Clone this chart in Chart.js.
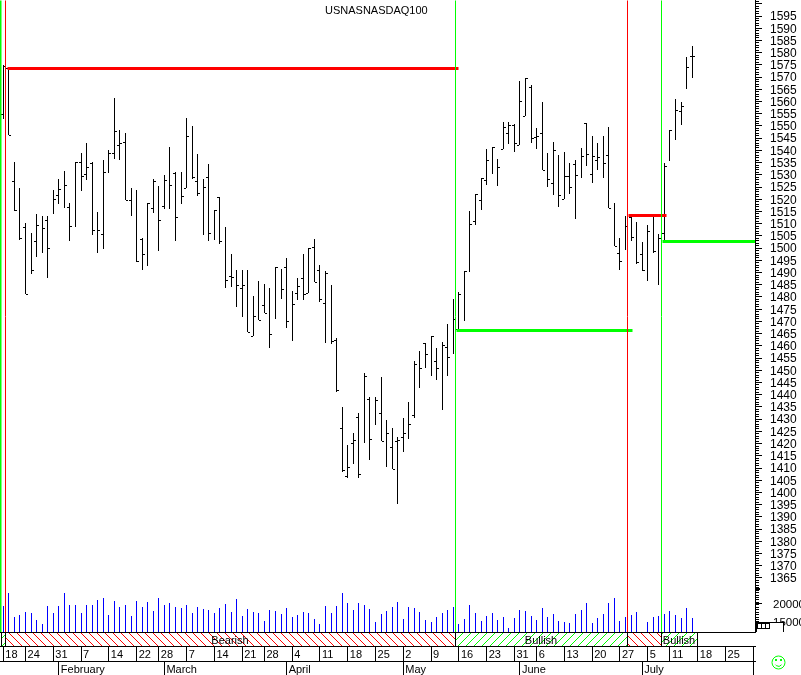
<!DOCTYPE html>
<html lang="en">

<head>
    <meta charset="UTF-8">
    <title>USNASNASDAQ100</title>
    <style>
        html, body { margin: 0; background: #fff; }
        canvas { display: block; }
    </style>
</head>

<body>
    <canvas id="myChart" width="801" height="675"></canvas>
    <script src="https://cdn.jsdelivr.net/npm/chart.js"></script>
    <script>
        const chartTitle = 'USNASNASDAQ100';

        // one entry per trading day, Jan 18 to Jul 15, null where no tick is visible
        const highs = [
            1574.8, 1573.6, 1535.1, 1524.5, 1510.2, 1505.8, 1513.8, 1513.0, 1513.0, 1523.7,
            1528.2, 1531.4, 1518.3, 1535.1, 1538.8, 1542.9, 1535.1, 1514.7, 1535.9, 1540.0,
            1561.3, 1548.2, 1547.0, 1524.5, 1523.7, 1504.0, 1518.3, 1528.2, 1525.3, 1529.8,
            1541.3, 1531.0, 1531.0, 1553.1, 1549.9, 1538.4, 1528.2, 1534.3, 1515.5, 1520.8,
            1508.5, 1497.5, 1490.9, 1490.9, 1490.9, 1480.3, 1486.4, 1485.2, 1483.6, 1492.2,
            1491.3, 1495.8, 1482.3, 1487.6, 1497.5, 1500.0, 1503.6, 1493.0, 1490.5, 1484.8,
            1463.1, 1434.9, 1419.3, 1424.2, 1432.4, 1448.8, 1439.0, 1439.0, 1447.1, 1429.5,
            1426.3, 1422.6, 1430.3, 1436.9, 1453.7, 1457.8, 1461.1, 1463.9, 1459.0, 1461.5,
            1468.8, 1479.1, 1482.0, 1490.5, 1515.1, 1522.0, 1528.6, 1540.5, 1541.3, 1536.4,
            1551.5, 1551.5, 1550.7, 1568.3, 1569.5, 1566.6, 1549.0, 1559.7, 1538.8, 1543.3,
            1538.0, 1539.2, 1534.7, 1535.9, 1540.9, 1551.1, 1545.8, 1542.9, 1545.8, 1549.4,
            1518.3, 1504.0, 1513.0, 1513.4, 1510.6, 1502.4, 1509.3, 1512.6, 1505.7, 1534.7,
            1548.2, 1560.9, 1559.7, 1578.1, 1582.6
        ];
        const lows = [
            1552.7, 1546.2, 1515.1, 1503.2, 1481.0, 1489.3, 1496.1, 1497.7, 1487.6, 1513.7,
            1517.8, 1516.1, 1502.6, 1508.4, 1523.1, 1527.6, 1505.1, 1497.7, 1499.4, 1530.5,
            1536.1, 1535.7, 1519.6, 1513.1, 1494.2, 1490.9, 1492.4, 1514.3, 1498.5, 1515.9,
            1515.9, 1502.6, 1517.8, 1524.5, 1528.0, 1521.0, 1505.1, 1502.6, 1503.2, 1501.6,
            1483.4, 1483.8, 1475.6, 1471.5, 1465.4, 1463.7, 1470.3, 1473.2, 1458.8, 1470.7,
            1478.9, 1467.0, 1461.7, 1478.5, 1478.5, 1481.5, 1486.0, 1477.8, 1460.9, 1460.5,
            1440.8, 1408.1, 1405.8, 1411.6, 1405.8, 1420.1, 1413.2, 1427.5, 1421.0, 1410.3,
            1409.5, 1395.2, 1416.4, 1421.8, 1430.3, 1442.6, 1450.6, 1447.4, 1445.9, 1433.6,
            1447.4, 1456.6, 1466.8, 1469.9, 1490.1, 1509.3, 1515.5, 1525.7, 1530.2, 1525.3,
            1540.5, 1542.5, 1539.2, 1542.1, 1554.0, 1542.9, 1540.5, 1531.9, 1524.9, 1521.6,
            1516.7, 1520.0, 1522.0, 1511.8, 1528.6, 1533.5, 1526.5, 1531.9, 1528.6, 1516.3,
            1500.8, 1490.9, 1499.1, 1502.8, 1493.4, 1490.5, 1486.4, 1497.9, 1484.8, 1502.8,
            1535.5, 1544.1, 1550.3, 1565.0, 1569.5
        ];
        const opens = [
            1554.8, 1573.5, 1527.4, null, 1508.6, null, 1502.8, null, 1511.4, null,
            1521.6, null, 1516.7, null, 1535.1, 1530.2, 1534.7, null, 1505.7, null,
            1538.8, 1542.1, 1543.3, 1519.6, null, 1503.6, null, 1516.3, null, 1517.1,
            null, 1530.6, null, 1524.5, null, 1527.4, null, 1529.0, null, 1520.8,
            null, 1488.5, null, 1483.6, null, 1463.7, null, 1476.6, null, null,
            null, 1492.2, null, 1481.5, 1487.6, 1481.5, 1500.3, 1490.9, 1477.4, null,
            1462.3, 1426.3, 1406.6, 1420.1, 1430.8, null, 1438.1, null, 1432.4, null,
            1418.5, 1421.0, 1422.6, null, 1431.6, null, 1461.1, null, 1453.7, null,
            1459.4, null, 1466.5, null, null, 1511.0, 1519.6, 1527.8, null, null,
            1540.5, 1547.0, 1550.3, 1542.1, 1554.0, 1565.8, 1545.4, 1547.0, null, 1526.5,
            null, 1520.0, 1529.4, 1534.3, null, 1551.1, 1530.2, 1536.0, null, 1538.0,
            null, 1497.9, null, 1512.6, null, 1497.5, null, null, null, 1506.1,
            null, null, 1556.0, null, 1578.5
        ];
        const closes = [
            1574.5, 1546.2, 1515.2, 1504.0, 1481.1, 1490.9, 1509.3, 1508.1, 1500.0, 1520.0,
            1524.1, 1525.7, 1509.0, 1535.1, 1529.4, 1533.1, 1507.3, 1507.3, 1531.0, 1538.8,
            1547.8, 1542.9, 1519.6, null, 1494.6, 1497.5, 1518.3, 1527.4, 1511.4, 1527.8,
            1525.7, 1512.6, 1521.2, 1545.8, 1529.0, 1522.4, 1524.9, 1506.1, 1515.5, 1502.8,
            1486.8, 1488.1, 1484.8, 1484.8, 1465.4, 1472.1, 1470.3, 1473.2, 1464.7, 1492.2,
            1483.2, 1470.0, 1477.0, 1484.4, 1481.1, 1500.0, 1486.0, 1479.0, 1489.7, 1461.9,
            1441.8, 1409.1, 1410.3, 1421.3, 1407.4, 1447.5, 1421.8, 1437.7, 1421.0, 1424.2,
            1409.5, 1421.3, 1424.2, 1427.9, 1452.4, 1450.8, 1456.6, 1463.9, 1450.8, 1460.2,
            1455.3, 1470.9, 1481.1, 1490.5, 1509.8, 1522.0, 1528.6, 1536.0, 1541.3, 1533.1,
            1549.4, 1550.3, 1542.9, 1560.1, 1569.5, 1544.9, 1545.8, 1531.9, 1528.2, 1540.0,
            1521.6, 1529.4, 1524.9, 1529.8, 1537.6, 1538.4, 1537.6, 1537.2, 1534.7, 1516.3,
            1500.8, 1494.6, 1509.0, 1504.4, 1494.2, 1490.9, 1506.9, 1498.7, 1504.0, 1533.5,
            1548.2, 1556.4, 1558.0, 1574.0, 1578.5
        ];
        const volumes = [
            19240, 22950, 16100, 16670, 17520, 17240, 15240, 14100, 19240, 17240,
            19240, 22950, 19520, 19520, 17240, 19520, 19520, 20950, 21520, 16670,
            20670, 18950, 19520, 16380, 20670, 18950, 20380, 17810, 21520, 19520,
            20100, 18950, 18670, 19520, 17240, 18950, 18380, 18100, 17240, 18670,
            19810, 17520, 21240, 16380, 18380, 17520, 17240, 14950, 18100, 17810,
            16950, 18670, 16100, 16670, 17520, 17240, 15520, 14100, 19240, 17240,
            19240, 22950, 20100, 18100, 20100, 19520, 18380, 14670, 16950, 17810,
            18950, 20380, 15520, 18950, 18670, 17520, 15240, 14670, 16100, 17240,
            18100, 18950, 14100, 15520, 19520, 17240, 14950, 16380, 17240, 15240,
            16100, 12950, 15810, 18100, 17810, 16380, 15240, 18670, 16100, 16950,
            14950, 14670, 14380, 16950, 18100, 20100, 14380, 15810, 16950, 20100,
            21520, 14950, 16100, 16670, 17520, null, 14670, 16100, 16380, 16950,
            17810, 16670, 15810, 18670, 15810
        ];

        const priceTicks = [
            1595, 1590, 1585, 1580, 1575, 1570, 1565, 1560, 1555, 1550, 1545, 1540,
            1535, 1530, 1525, 1520, 1515, 1510, 1505, 1500, 1495, 1490, 1485, 1480,
            1475, 1470, 1465, 1460, 1455, 1450, 1445, 1440, 1435, 1430, 1425, 1420,
            1415, 1410, 1405, 1400, 1395, 1390, 1385, 1380, 1375, 1370, 1365
        ];
        const volumeTicks = [20000, 15000];

        const weekTickDays = [0, 4, 9, 14, 19, 24, 28, 33, 38, 43, 47, 52, 57, 62, 67, 72, 77, 82, 87, 92, 96, 101, 106, 111, 116, 120, 125, 130, 135];
        const weekTickLabels = ['18', '24', '31', '7', '14', '22', '28', '7', '14', '21', '28', '4', '11', '18', '25', '2', '9', '16', '23', '31', '6', '13', '20', '27', '5', '11', '18', '25', ''];
        const monthTickDays = [10, 29, 51, 72, 93, 115, 135];
        const monthTickLabels = ['February', 'March', 'April', 'May', 'June', 'July', ''];

        // trend changes, in trading days
        const regimeStarts = [-0.6, 0.4, 81.35, 112.3, 118.43];
        const regimeEnds = [0.4, 81.35, 112.3, 118.43, 124.9];
        const regimeNames = ['', 'Bearish', 'Bullish', '', 'Bullish'];
        const regimeIsBull = [true, false, true, false, true];

        const changeDays = [-0.5, 0.4, 81.35, 112.3, 118.43];
        const changeBull = [true, false, true, false, true];

        const stopFrom = [0.67, 81.66, 112.6, 118.7];
        const stopTo = [82, 113.2, 119.3, 135.3];
        const stopValues = [1573.5, 1466.3, 1513.4, 1502.7];
        const stopBull = [false, true, false, true];

        const RED = '#ff0000';
        const GREEN = '#00ff00';
        const FONT = '"Liberation Sans", Arial, sans-serif';

        const xMin = -0.594;
        const xMax = 135.3;
        const priceMin = 1342.89;
        const priceMax = 1601.55;

        const tickMark = (left) => {
            const c = document.createElement('canvas');
            c.width = 5;
            c.height = 1;
            const g = c.getContext('2d');
            g.fillStyle = '#000';
            g.fillRect(left ? 0 : 3, 0, 2, 1);
            return c;
        };

        const hatch = (bull) => {
            const c = document.createElement('canvas');
            c.width = 8;
            c.height = 8;
            const g = c.getContext('2d');
            g.fillStyle = bull ? GREEN : RED;
            for (let i = 0; i < 8; i++) {
                g.fillRect(bull ? 7 - i : i, i, 1, 1);
            }
            return c;
        };

        const series = (values) => values.map((v, i) => ({ x: i, y: v })).filter(p => p.y !== null);

        const lineSet = (points, color, width) => ({
            type: 'line',
            data: points,
            borderColor: color,
            borderWidth: width,
            pointRadius: 0,
            tension: 0,
            order: 1
        });

        const datasets = [{
                label: 'high-low',
                data: highs.map((h, i) => ({ x: i, y: [lows[i], h] })),
                backgroundColor: '#000',
                barThickness: 1,
                grouped: false,
                inflateAmount: 0,
                order: 3
            },
            {
                label: 'volume',
                yAxisID: 'yVol',
                data: series(volumes),
                backgroundColor: '#0000ff',
                barThickness: 1,
                grouped: false,
                inflateAmount: 0,
                order: 3
            },
            {
                type: 'line',
                label: 'open',
                data: series(opens),
                showLine: false,
                pointStyle: tickMark(true),
                order: 2
            },
            {
                type: 'line',
                label: 'close',
                data: series(closes),
                showLine: false,
                pointStyle: tickMark(false),
                order: 2
            }
        ];
        changeDays.forEach((d, i) => {
            datasets.push(lineSet([{ x: d, y: priceMin }, { x: d, y: priceMax }],
                changeBull[i] ? GREEN : RED, i === 0 ? 2 : 1));
        });
        stopValues.forEach((v, i) => {
            datasets.push(lineSet([{ x: stopFrom[i], y: v }, { x: stopTo[i], y: v }],
                stopBull[i] ? GREEN : RED, 3));
        });

        // the original is not antialiased, keep every mark on whole pixels
        const snapPlugin = {
            id: 'snap',
            afterDatasetsUpdate(chart) {
                chart.getSortedVisibleDatasetMetas().forEach(meta => {
                    meta.data.forEach(el => {
                        el.x = Math.floor(el.x) + 0.5;
                        if (meta.type === 'bar') {
                            el.y = Math.floor(el.y);
                            el.base = Math.floor(el.base) + (meta.yAxisID === 'y' ? 1 : 0);
                        } else {
                            el.y = Math.floor(el.y) + 0.5;
                        }
                    });
                });
            }
        };

        const extrasPlugin = {
            id: 'extras',
            afterDraw(chart) {
                const { ctx, scales } = chart;
                const x = scales.x;
                const top = Math.round(x.top);
                const h = Math.round(x.bottom) - top;
                const vol = scales.yVol;

                ctx.save();
                ctx.font = '11px ' + FONT;
                ctx.textAlign = 'center';
                ctx.textBaseline = 'middle';
                regimeStarts.forEach((from, i) => {
                    const l = Math.max(Math.floor(x.getPixelForValue(from)), 1);
                    const r = Math.floor(x.getPixelForValue(regimeEnds[i]));
                    ctx.fillStyle = ctx.createPattern(hatch(regimeIsBull[i]), 'repeat');
                    ctx.fillRect(l, top + 1, r - l, h - 1);
                    ctx.strokeStyle = '#000';
                    ctx.lineWidth = 1;
                    ctx.beginPath();
                    ctx.moveTo(l + 0.5, top);
                    ctx.lineTo(l + 0.5, top + h);
                    ctx.moveTo(r + 0.5, top);
                    ctx.lineTo(r + 0.5, top + h);
                    ctx.stroke();
                    if (regimeNames[i]) {
                        ctx.fillStyle = '#000';
                        ctx.fillText(regimeNames[i], (l + r) / 2, top + h / 2 + 1.5);
                    }
                });

                ctx.textAlign = 'left';
                ctx.fillStyle = '#000';
                ctx.fillText(chartTitle, 325, 11);

                // volume axis mark and the little box over its lower label
                ctx.fillRect(755, Math.round(vol.getPixelForValue(20000)) - 1, 7, 1);
                ctx.fillRect(755, 588, 5, 2);
                ctx.fillStyle = '#fff';
                ctx.fillRect(756, 622, 27, 10);
                ctx.fillStyle = '#000';
                ctx.fillRect(755, 622, 28, 1);
                ctx.fillRect(783, 622, 1, 10);
                ctx.fillRect(755, 622, 2, 10);
                ctx.strokeStyle = '#000';
                ctx.strokeRect(757.5, 623.5, 4, 5);
                ctx.strokeRect(761.5, 623.5, 4, 5);
                ctx.strokeRect(765.5, 623.5, 4, 5);

                // smiley
                ctx.strokeStyle = GREEN;
                ctx.fillStyle = GREEN;
                ctx.lineWidth = 1;
                ctx.beginPath();
                ctx.arc(778.5, 662.5, 6.5, 0, Math.PI * 2);
                ctx.stroke();
                ctx.fillRect(775, 659, 2, 2);
                ctx.fillRect(780, 659, 2, 2);
                ctx.beginPath();
                ctx.arc(778.5, 662.5, 3.8, 0.2 * Math.PI, 0.8 * Math.PI);
                ctx.stroke();
                ctx.restore();
            }
        };

        const noPadding = (s) => {
            s.paddingLeft = s.paddingRight = s.paddingTop = s.paddingBottom = 0;
        };
        const sideAxis = (width) => (s) => {
            s.width = width;
            noPadding(s);
        };
        const rowAxis = (height) => (s) => {
            s.height = height;
            noPadding(s);
        };
        const useTicks = (values) => (s) => {
            s.ticks = values.map(v => ({ value: v }));
        };
        const minorTicks = Array.from({ length: 257 }, (_, i) => 1345 + i);

        const dateAxis = (weight, height, days, labels, padding) => ({
            type: 'linear',
            axis: 'x',
            position: 'bottom',
            weight: weight,
            offset: false,
            min: xMin,
            max: xMax,
            afterBuildTicks: useTicks(days),
            afterFit: rowAxis(height),
            border: { display: true, color: '#000', width: 1 },
            grid: { offset: false, drawOnChartArea: false, tickLength: height, tickColor: '#000', tickWidth: 1 },
            ticks: {
                autoSkip: false,
                maxRotation: 0,
                align: 'start',
                labelOffset: 2,
                padding: padding,
                color: '#000',
                font: { family: FONT, size: 11 },
                callback: (v) => labels[days.indexOf(v)]
            }
        });

        const myChart = new Chart(document.getElementById('myChart'), {
            type: 'bar',
            data: { datasets: datasets },
            plugins: [snapPlugin, extrasPlugin],
            options: {
                responsive: false,
                animation: false,
                events: [],
                layout: { padding: 0, autoPadding: false },
                plugins: {
                    legend: { display: false },
                    tooltip: { enabled: false }
                },
                scales: {
                    x: {
                        type: 'linear',
                        position: 'bottom',
                        weight: 0,
                        offset: false,
                        min: xMin,
                        max: xMax,
                        afterFit: rowAxis(14),
                        border: { display: true, color: '#000', width: 1 },
                        grid: { offset: false, drawOnChartArea: false, drawTicks: false },
                        ticks: { display: false }
                    },
                    xWeek: dateAxis(1, 15, weekTickDays, weekTickLabels, -13),
                    xMonth: dateAxis(2, 14, monthTickDays, monthTickLabels, -12),
                    yMinor: {
                        type: 'linear',
                        axis: 'y',
                        position: 'right',
                        weight: 0,
                        min: priceMin,
                        max: priceMax,
                        afterBuildTicks: useTicks(minorTicks),
                        afterFit: sideAxis(0),
                        border: { display: false },
                        grid: { drawOnChartArea: false, tickLength: 4, tickColor: '#000' },
                        ticks: { display: false, autoSkip: false }
                    },
                    y: {
                        type: 'linear',
                        position: 'right',
                        weight: 1,
                        min: priceMin,
                        max: priceMax,
                        afterBuildTicks: useTicks(priceTicks.concat([1600])),
                        afterFit: sideAxis(46),
                        border: { display: true, color: '#000', width: 1 },
                        grid: { drawOnChartArea: false, tickLength: 7, tickColor: '#000' },
                        ticks: {
                            autoSkip: false,
                            padding: 8,
                            labelOffset: 1,
                            color: '#000',
                            font: { family: FONT, size: 12 },
                            callback: (v) => (priceTicks.includes(v) ? String(v) : '')
                        }
                    },
                    yVol: {
                        type: 'linear',
                        axis: 'y',
                        position: 'right',
                        weight: 2,
                        min: 12000,
                        max: 192571,
                        afterBuildTicks: useTicks(volumeTicks),
                        afterFit: sideAxis(0),
                        border: { display: false },
                        grid: { display: false },
                        ticks: {
                            autoSkip: false,
                            mirror: true,
                            padding: 4,
                            labelOffset: 1,
                            color: '#000',
                            font: { family: FONT, size: 11.5 },
                            callback: (v) => String(v)
                        }
                    }
                }
            }
        });
    </script>
</body>

</html>
